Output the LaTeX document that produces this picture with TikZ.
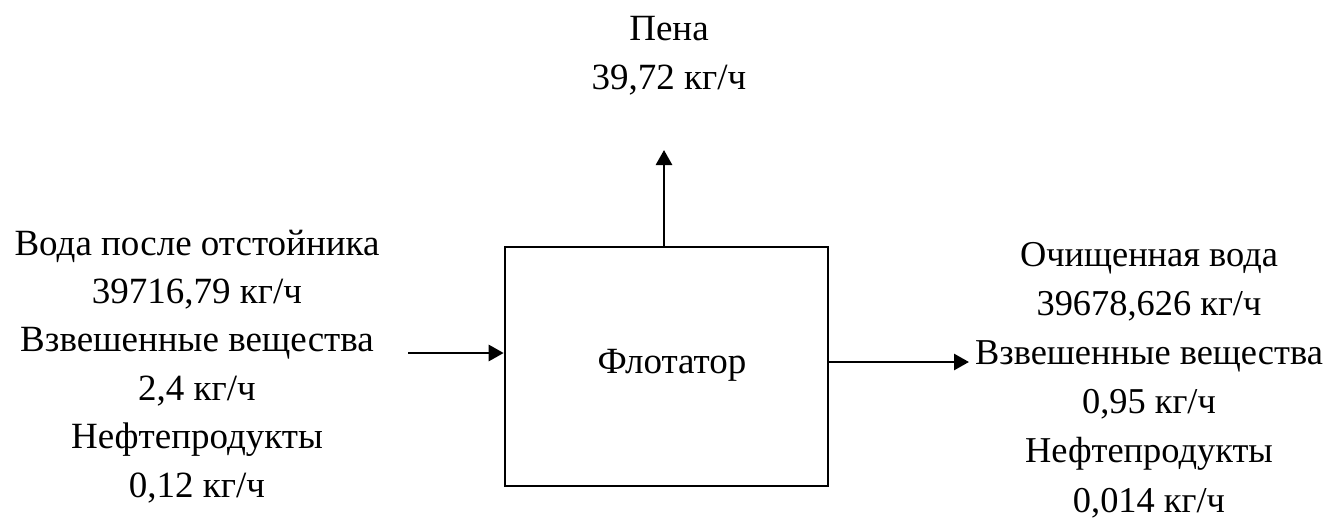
\documentclass[tikz,border=0pt]{standalone}
\usepackage{fontspec}
\setmainfont{Liberation Serif}
\usetikzlibrary{arrows.meta}
\begin{document}
\begin{tikzpicture}[x=1pt,y=-1pt,
  lbl/.style={align=center, inner sep=0pt, font=\fontsize{37}{48.4}\selectfont},
  lblwide/.style={lbl, font=\fontsize{36.4}{49.2}\selectfont},
  unit/.style={draw, line width=2.6pt, inner sep=0pt, minimum width=323pt, minimum height=239pt},
  flow/.style={line width=2.8pt, -{Triangle[length=15pt,width=16pt]}}]
\useasboundingbox (0,0) rectangle (1333,519);

% flotation unit
\node[unit] (flot) at (666.5,366.5) {};
\node[lbl, anchor=base] (flotlbl) at (672,373) {Флотатор};

% stream labels (anchored at the baseline of the last line)
\node[lbl, anchor=base] (inlbl) at (197,497)
  {Вода после отстойника\\39716,79 кг/ч\\Взвешенные вещества\\2,4 кг/ч\\Нефтепродукты\\0,12 кг/ч};
\node[lblwide, anchor=base] (outlbl) at (1149,512)
  {Очищенная вода\\39678,626 кг/ч\\Взвешенные вещества\\0,95 кг/ч\\Нефтепродукты\\0,014 кг/ч};
\node[lbl, anchor=base] (foamlbl) at (669,89) {Пена\\39,72 кг/ч};

% stream ends
\coordinate (in) at (408,353);
\coordinate (out) at (969,362);
\coordinate (foam) at (664,150);

% streams
\draw[flow] (in) -- (in -| flot.west);
\draw[flow] (flot.north -| foam) -- (foam);
\draw[flow] (out -| flot.east) -- (out);
\end{tikzpicture}
\end{document}
